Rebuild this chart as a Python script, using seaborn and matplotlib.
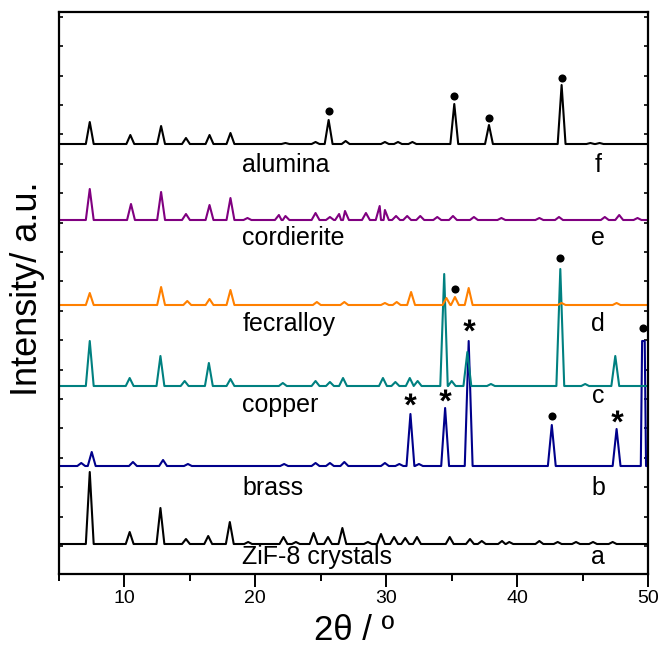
import numpy as np
import pandas as pd
import seaborn as sns
import matplotlib.pyplot as plt
from matplotlib.path import Path
from matplotlib.textpath import TextPath
from matplotlib.font_manager import FontProperties

"""
Data read off the XRD patterns (2theta in degrees, intensity in a.u.)
each pattern: peak positions and peak heights above its baseline
"""
zif_pos = [7.35, 10.4, 12.75, 14.7, 16.4, 18.05, 19.45, 22.15, 23.1, 24.45, 25.55, 26.65,
           28.6, 29.6, 30.6, 31.45, 32.35, 34.85, 36.4, 37.3, 38.85, 39.4, 41.7, 43.1,
           44.5, 45.8, 47.3]
zif_h = [72, 12, 36, 5, 8, 22, 2, 7, 2, 11, 7, 16, 2, 10, 7, 6, 7, 7, 5, 3, 3, 2, 3, 2, 2, 2, 2]

brass_pos = [6.7, 7.5, 10.65, 12.95, 14.85, 22.2, 24.6, 25.7, 26.8, 29.9, 31.0, 31.85, 32.5,
             34.5, 36.3, 42.65, 47.6, 49.55, 49.75]
brass_h = [3, 14, 4, 6, 2, 2, 3, 3, 4, 3, 2, 52, 2, 58, 125, 41, 37, 125, 125]

copper_pos = [7.35, 10.4, 12.75, 14.6, 16.45, 18.1, 22.1, 24.6, 25.7, 26.7, 29.75, 30.7, 31.8,
              32.4, 34.43, 35.0, 36.2, 38.0, 43.3, 45.2, 47.5]
copper_h = [45, 8, 30, 5, 23, 7, 3, 5, 4, 8, 8, 4, 8, 5, 112, 5, 34, 2, 117, 2, 30]

fecralloy_pos = [7.35, 12.8, 14.8, 16.5, 18.1, 24.7, 26.8, 29.9, 30.8, 31.9, 34.6, 35.25, 36.3,
                 43.4, 47.6]
fecralloy_h = [12, 18, 4, 6, 15, 3, 3, 2, 3, 13, 7, 8, 17, 2, 2]

cordierite_pos = [7.35, 10.5, 12.8, 14.7, 16.5, 18.1, 19.4, 21.8, 22.3, 24.6, 25.7, 26.4, 26.85,
                  28.45, 29.5, 29.9, 30.75, 31.6, 32.6, 33.9, 35.1, 36.7, 38.8, 41.7, 43.2,
                  46.7, 47.8, 49.2]
cordierite_h = [31, 16, 28, 6, 15, 22, 2, 5, 4, 7, 3, 6, 9, 7, 14, 10, 4, 4, 4, 3, 4, 3, 2, 2,
                3, 3, 5, 2]

alumina_pos = [7.35, 10.45, 12.8, 14.7, 16.5, 18.1, 22.3, 24.6, 25.6, 26.9, 29.9, 30.9, 32.0,
               35.2, 37.85, 43.4, 45.6, 46.3]
alumina_h = [22, 9, 18, 6, 9, 11, 1, 2, 24, 3, 2, 2, 2, 40, 19, 59, 1, 1]

samples = ['ZiF-8 crystals', 'brass', 'copper', 'fecralloy', 'cordierite', 'alumina']
letters = ['a', 'b', 'c', 'd', 'e', 'f']
baselines = [30, 108, 188, 269, 354, 430]
colors = ['#000000', '#00008B', '#008080', '#FF8000', '#800080', '#000000']

# phase markers: dots and stars
dot_x = [25.6, 35.2, 37.85, 43.4, 35.25, 43.3, 42.65, 49.6]
dot_y = [463, 478, 456, 496, 285, 316, 158, 246]
star_x = [31.85, 34.5, 36.3, 47.6]
star_y = [170, 174, 244, 153]

peaks = [(zif_pos, zif_h), (brass_pos, brass_h), (copper_pos, copper_h),
         (fecralloy_pos, fecralloy_h), (cordierite_pos, cordierite_h),
         (alumina_pos, alumina_h)]

"""
Build long table: baseline - apex - baseline for every peak
"""
hw = 0.3
rows = []
for name, base, (pos, h) in zip(samples, baselines, peaks):
    rows.append((name, 5.0, base))
    for p, v in zip(pos, h):
        rows.append((name, p - hw, base))
        rows.append((name, p, base + v))
        rows.append((name, p + hw, base))
    rows.append((name, 50.5, base))
df = pd.DataFrame(rows, columns=['sample', 'two_theta', 'intensity'])

sns.set_style('ticks', rc={'axes.edgecolor': 'black', 'text.color': 'black',
                           'xtick.color': 'black', 'ytick.color': 'black'})
plt.rcParams['font.family'] = ['Liberation Sans', 'DejaVu Sans']

fig = plt.figure(figsize=(6.65, 6.48), dpi=100)
ax = fig.add_axes([59 / 665, 1 - 574 / 648, 589 / 665, 562 / 648])

sns.lineplot(data=df, x='two_theta', y='intensity', hue='sample', hue_order=samples,
             palette=colors, estimator=None, legend=False, lw=1.5, ax=ax)

sns.scatterplot(x=dot_x, y=dot_y, color='black', marker='o', s=34, linewidth=0, ax=ax)

# asterisk marker from the font glyph, centred
tp = TextPath((0, 0), '*', prop=FontProperties(family='Liberation Sans', weight='bold'))
v = tp.vertices
c = (v.min(axis=0) + v.max(axis=0)) / 2
star = Path(v - c, tp.codes)
sns.scatterplot(x=star_x, y=star_y, color='black', marker=star, s=250, linewidth=0, ax=ax)

label_y = [10, 79, 162, 243, 329, 402]
letter_y = [10, 79, 171, 243, 329, 402]
for name, let, ly, ty in zip(samples, letters, label_y, letter_y):
    ax.text(19.0, ly, name, fontsize=18, ha='left', va='baseline')
    ax.text(46.2, ty, let, fontsize=18, ha='center', va='baseline')

ax.set_xlim(5, 50)
ax.set_ylim(0, 562)
ax.set_xticks([10, 20, 30, 40, 50])
ax.set_xticks([5, 15, 25, 35, 45], minor=True)
ax.set_yticks(np.arange(28, 562, 29.4))
ax.set_yticklabels([])
ax.tick_params(axis='x', direction='out', length=9, width=1.4, labelsize=14, pad=2.5)
ax.tick_params(axis='x', which='minor', direction='out', length=5, width=1.4)
ax.tick_params(axis='y', direction='in', length=3, width=1.2, left=True, right=True)
for s in ax.spines.values():
    s.set_linewidth(1.6)
    s.set_visible(True)
ax.set_xlabel('')
ax.set_ylabel('')

fig.text(0.042, 0.554, 'Intensity/ a.u.', rotation=90, fontsize=26, ha='center', va='center')
fig.text(354 / 665, 8 / 648, '2θ / º', fontsize=25, ha='center', va='baseline')

fig.savefig('out.png', dpi=100)
